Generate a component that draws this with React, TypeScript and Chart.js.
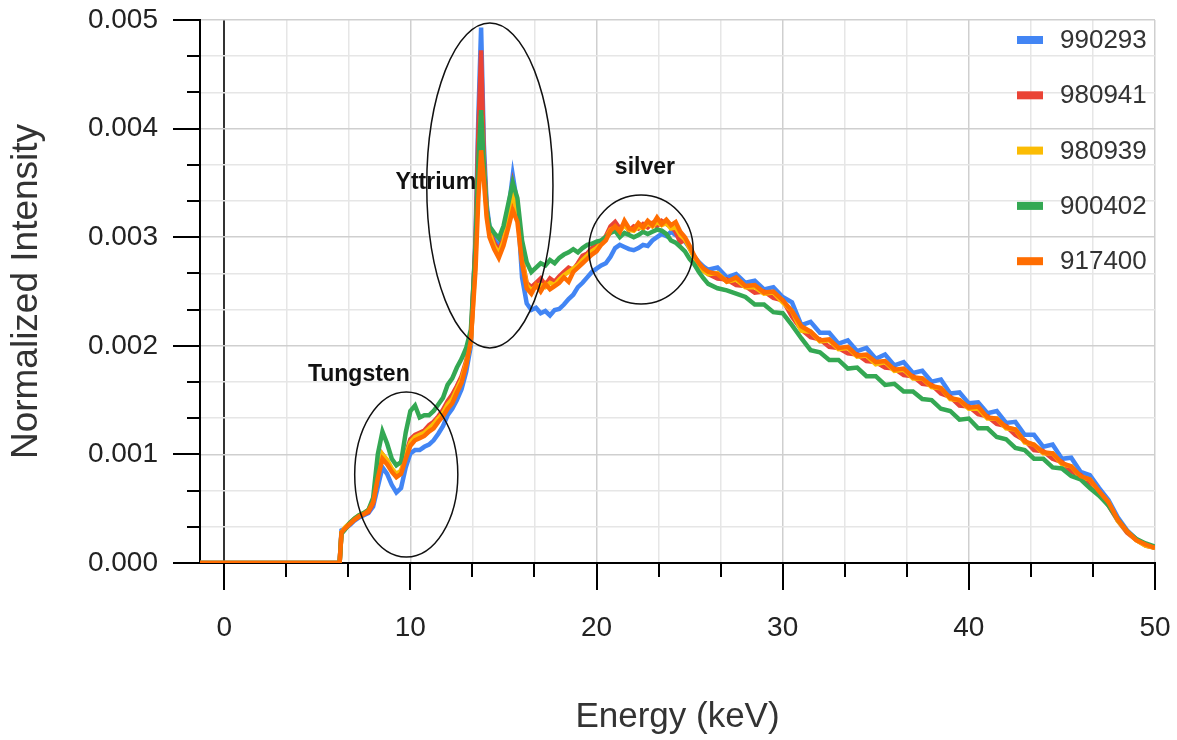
import { useEffect, useRef } from "react";
import { Chart, registerables } from "chart.js";

Chart.register(...registerables);

// ---------- data ----------
const energyKeV = [
  -1.3, 6.2, 6.3, 6.5, 6.75, 7, 7.25, 7.5, 7.75, 8, 8.25, 8.5, 8.75, 9, 9.25, 9.5, 9.75, 10, 10.25, 10.5,
  10.75, 11, 11.25, 11.5, 11.75, 12, 12.25, 12.5, 12.75, 13, 13.25, 13.5, 13.65, 13.8, 13.95, 14.1, 14.25, 14.5, 14.75, 15,
  15.25, 15.5, 15.75, 16, 16.25, 16.5, 16.75, 17, 17.25, 17.5, 17.75, 18, 18.25, 18.5, 18.75, 19, 19.25, 19.5, 19.75, 20,
  20.25, 20.5, 20.75, 21, 21.25, 21.5, 21.75, 22, 22.25, 22.5, 22.75, 23, 23.25, 23.5, 23.75, 24, 24.25, 24.5, 24.75, 25,
  25.25, 25.5, 25.75, 26, 26.5, 27, 27.5, 28, 28.5, 29, 29.5, 30, 30.5, 31, 31.5, 32, 32.5, 33, 33.5, 34,
  34.5, 35, 35.5, 36, 36.5, 37, 37.5, 38, 38.5, 39, 39.5, 40, 40.5, 41, 41.5, 42, 42.5, 43, 43.5, 44,
  44.5, 45, 45.5, 46, 46.5, 47, 47.5, 48, 48.5, 49, 49.5, 50,
];

const s990293 = [
  0, 0, 0.00030, 0.00032, 0.00035, 0.00039, 0.00042, 0.00044, 0.00046, 0.00052,
  0.00070, 0.00088, 0.00082, 0.00072, 0.00065, 0.00069, 0.00088, 0.00101, 0.00104, 0.00104,
  0.00107, 0.00109, 0.00113, 0.00119, 0.00126, 0.00136, 0.00142, 0.00150, 0.00160, 0.00176,
  0.00200, 0.00300, 0.00410, 0.00493, 0.00385, 0.00330, 0.00310, 0.00298, 0.00292, 0.00300,
  0.00322, 0.00357, 0.00330, 0.00263, 0.00239, 0.00233, 0.00235, 0.00230, 0.00232, 0.00228,
  0.00233, 0.00234, 0.00238, 0.00243, 0.00247, 0.00254, 0.00258, 0.00263, 0.00268, 0.00271,
  0.00274, 0.00276, 0.00282, 0.00290, 0.00293, 0.00291, 0.00289, 0.00288, 0.00290, 0.00293,
  0.00292, 0.00297, 0.00300, 0.00303, 0.00301, 0.00305, 0.00302, 0.00300, 0.00296, 0.00290,
  0.00282, 0.00277, 0.00273, 0.00270,
  0.00272, 0.00263, 0.00266, 0.00258, 0.00260, 0.00252, 0.00254, 0.00245, 0.00240, 0.00219,
  0.00222, 0.00212, 0.00212, 0.00202, 0.00205, 0.00195, 0.00198, 0.00188, 0.00192, 0.00182,
  0.00185, 0.00175, 0.00177, 0.00167, 0.00169, 0.00156, 0.00157, 0.00147, 0.00148, 0.00138,
  0.00140, 0.00129, 0.00130, 0.00118, 0.00118, 0.00107, 0.00109, 0.00096, 0.00097, 0.00084,
  0.00081, 0.00069, 0.00058, 0.00042, 0.00030, 0.00022, 0.00017, 0.00014,
];

const s980941 = [
  0, 0, 0.00028, 0.00032, 0.00036, 0.00040, 0.00043, 0.00045, 0.00047, 0.00055,
  0.00080, 0.00100, 0.00094, 0.00086, 0.00080, 0.00084, 0.00100, 0.00114, 0.00118, 0.00120,
  0.00122, 0.00127, 0.00130, 0.00135, 0.00141, 0.00149, 0.00155, 0.00163, 0.00172, 0.00186,
  0.00207, 0.00295, 0.00395, 0.00472, 0.00372, 0.00325, 0.00306, 0.00295, 0.00288, 0.00298,
  0.00318, 0.00348, 0.00326, 0.00280, 0.00258, 0.00254, 0.00258, 0.00262, 0.00256, 0.00262,
  0.00259, 0.00264, 0.00268, 0.00272, 0.00270, 0.00276, 0.00283, 0.00285, 0.00290, 0.00293,
  0.00296, 0.00301, 0.00310, 0.00314, 0.00308, 0.00312, 0.00306, 0.00310, 0.00308, 0.00312,
  0.00309, 0.00313, 0.00310, 0.00315, 0.00312, 0.00310, 0.00305, 0.00295, 0.00298, 0.00290,
  0.00282, 0.00274, 0.00269, 0.00266,
  0.00262, 0.00261, 0.00256, 0.00255, 0.00249, 0.00250, 0.00244, 0.00242, 0.00227, 0.00215,
  0.00208, 0.00206, 0.00199, 0.00198, 0.00193, 0.00192, 0.00186, 0.00185, 0.00180, 0.00179,
  0.00173, 0.00172, 0.00165, 0.00164, 0.00156, 0.00153, 0.00145, 0.00144, 0.00137, 0.00135,
  0.00128, 0.00126, 0.00118, 0.00113, 0.00104, 0.00103, 0.00096, 0.00093, 0.00084, 0.00081,
  0.00072, 0.00066, 0.00053, 0.00039, 0.00028, 0.00021, 0.00016, 0.00014,
];

const s980939 = [
  0, 0, 0.00028, 0.00033, 0.00037, 0.00041, 0.00044, 0.00046, 0.00049, 0.00057,
  0.00082, 0.00100, 0.00095, 0.00087, 0.00082, 0.00085, 0.00099, 0.00111, 0.00116, 0.00118,
  0.00120, 0.00124, 0.00128, 0.00133, 0.00138, 0.00146, 0.00151, 0.00160, 0.00169, 0.00184,
  0.00204, 0.00280, 0.00360, 0.00412, 0.00362, 0.00322, 0.00304, 0.00292, 0.00285, 0.00296,
  0.00314, 0.00340, 0.00322, 0.00279, 0.00256, 0.00251, 0.00255, 0.00256, 0.00254, 0.00258,
  0.00256, 0.00261, 0.00265, 0.00268, 0.00271, 0.00274, 0.00279, 0.00283, 0.00287, 0.00290,
  0.00294, 0.00299, 0.00307, 0.00309, 0.00306, 0.00311, 0.00307, 0.00306, 0.00310, 0.00308,
  0.00313, 0.00310, 0.00314, 0.00311, 0.00313, 0.00308, 0.00309, 0.00302, 0.00298, 0.00290,
  0.00281, 0.00274, 0.00269, 0.00266,
  0.00267, 0.00259, 0.00261, 0.00254, 0.00254, 0.00248, 0.00249, 0.00240, 0.00232, 0.00214,
  0.00213, 0.00204, 0.00205, 0.00197, 0.00198, 0.00190, 0.00191, 0.00183, 0.00185, 0.00177,
  0.00178, 0.00170, 0.00170, 0.00162, 0.00161, 0.00151, 0.00150, 0.00142, 0.00142, 0.00133,
  0.00133, 0.00124, 0.00123, 0.00111, 0.00109, 0.00101, 0.00101, 0.00091, 0.00089, 0.00079,
  0.00077, 0.00065, 0.00056, 0.00039, 0.00029, 0.00021, 0.00016, 0.00014,
];

const s900402 = [
  0, 0, 0.00027, 0.00031, 0.00037, 0.00041, 0.00044, 0.00046, 0.00049, 0.00060,
  0.00100, 0.00121, 0.00110, 0.00096, 0.00090, 0.00093, 0.00120, 0.00140, 0.00145, 0.00134,
  0.00136, 0.00136, 0.00140, 0.00146, 0.00152, 0.00164, 0.00170, 0.00180, 0.00188, 0.00198,
  0.00215, 0.00290, 0.00370, 0.00417, 0.00365, 0.00325, 0.00310, 0.00304, 0.00299, 0.00310,
  0.00330, 0.00350, 0.00336, 0.00297, 0.00277, 0.00268, 0.00272, 0.00276, 0.00274, 0.00279,
  0.00276, 0.00281, 0.00284, 0.00286, 0.00289, 0.00286, 0.00290, 0.00293, 0.00294, 0.00296,
  0.00297, 0.00300, 0.00304, 0.00306, 0.00300, 0.00304, 0.00302, 0.00300, 0.00302, 0.00305,
  0.00303, 0.00305, 0.00307, 0.00306, 0.00303, 0.00297, 0.00295, 0.00291, 0.00287, 0.00280,
  0.00275, 0.00268, 0.00262, 0.00257,
  0.00253, 0.00251, 0.00248, 0.00245, 0.00238, 0.00238, 0.00231, 0.00230, 0.00219, 0.00207,
  0.00196, 0.00194, 0.00187, 0.00187, 0.00179, 0.00180, 0.00172, 0.00172, 0.00164, 0.00165,
  0.00158, 0.00158, 0.00151, 0.00150, 0.00142, 0.00140, 0.00132, 0.00133, 0.00124, 0.00124,
  0.00116, 0.00114, 0.00106, 0.00104, 0.00096, 0.00096, 0.00088, 0.00087, 0.00080, 0.00077,
  0.00069, 0.00062, 0.00053, 0.00040, 0.00029, 0.00022, 0.00018, 0.00015,
];

const s917400 = [
  0, 0, 0.00028, 0.00032, 0.00036, 0.00040, 0.00043, 0.00045, 0.00048, 0.00056,
  0.00078, 0.00096, 0.00091, 0.00084, 0.00079, 0.00082, 0.00096, 0.00108, 0.00113, 0.00115,
  0.00117, 0.00121, 0.00124, 0.00130, 0.00135, 0.00142, 0.00147, 0.00157, 0.00166, 0.00182,
  0.00205, 0.00270, 0.00335, 0.00380, 0.00352, 0.00318, 0.00300, 0.00289, 0.00281, 0.00292,
  0.00308, 0.00325, 0.00314, 0.00276, 0.00253, 0.00248, 0.00256, 0.00250, 0.00257, 0.00252,
  0.00255, 0.00258, 0.00263, 0.00259, 0.00268, 0.00272, 0.00276, 0.00280, 0.00284, 0.00287,
  0.00293, 0.00297, 0.00306, 0.00310, 0.00305, 0.00315, 0.00308, 0.00307, 0.00313, 0.00309,
  0.00315, 0.00311, 0.00318, 0.00312, 0.00316, 0.00311, 0.00314, 0.00305, 0.00300, 0.00292,
  0.00283, 0.00276, 0.00271, 0.00268,
  0.00266, 0.00259, 0.00263, 0.00255, 0.00256, 0.00249, 0.00250, 0.00242, 0.00232, 0.00218,
  0.00213, 0.00205, 0.00206, 0.00198, 0.00199, 0.00191, 0.00192, 0.00185, 0.00186, 0.00178,
  0.00179, 0.00171, 0.00170, 0.00163, 0.00161, 0.00152, 0.00150, 0.00143, 0.00144, 0.00134,
  0.00133, 0.00125, 0.00123, 0.00112, 0.00109, 0.00102, 0.00101, 0.00092, 0.00089, 0.00080,
  0.00077, 0.00066, 0.00056, 0.00040, 0.00029, 0.00021, 0.00017, 0.00014,
];

const seriesLabels = ["990293", "980941", "980939", "900402", "917400"];
const seriesValues = [s990293, s980941, s980939, s900402, s917400];
const seriesColors = ["#4285F4", "#EA4335", "#FBBC04", "#34A853", "#FF6D01"];

const xTickLabels = ["0", "10", "20", "30", "40", "50"];
const yTickLabels = ["0.000", "0.001", "0.002", "0.003", "0.004", "0.005"];
const xMajorStep = 10;
const yMajorStep = 0.001;
const minorPerMajor = 3;
const xMin = -1.3;
const xMax = 50;
const yMin = 0;
const yMax = 0.005;

// annotation ellipses (data space)
const annLabels = ["Tungsten", "Yttrium", "silver"];
const annCenterX = [9.78, 14.27, 22.39];
const annCenterY = [0.000815, 0.003476, 0.002887];
const annRadiusX = [2.77, 3.39, 2.8];
const annRadiusY = [0.00076, 0.001496, 0.000502];
const annTextX = [7.23, 11.37, 22.6];
const annTextY = [0.00173, 0.0035, 0.00364];

const FONT = "'Liberation Sans', Arial, sans-serif";

const xTickValues: number[] = [];
for (let k = 0; k <= (xTickLabels.length - 1) * minorPerMajor; k++) xTickValues.push((k * xMajorStep) / minorPerMajor);
const yTickValues: number[] = [];
for (let k = 0; k <= (yTickLabels.length - 1) * minorPerMajor; k++) yTickValues.push((k * yMajorStep) / minorPerMajor);

const decorPlugin = {
  id: "decor",
  afterDatasetsDraw(chart: any) {
    const { ctx, scales } = chart;
    const xs = scales.x;
    const ys = scales.y;
    ctx.save();
    ctx.strokeStyle = "#111";
    ctx.lineWidth = 1.5;
    for (let i = 0; i < annLabels.length; i++) {
      const cx = xs.getPixelForValue(annCenterX[i]);
      const cy = ys.getPixelForValue(annCenterY[i]);
      const rx = Math.abs(xs.getPixelForValue(annCenterX[i] + annRadiusX[i]) - cx);
      const ry = Math.abs(ys.getPixelForValue(annCenterY[i] + annRadiusY[i]) - cy);
      ctx.beginPath();
      ctx.ellipse(cx, cy, rx, ry, 0, 0, Math.PI * 2);
      ctx.stroke();
    }
    ctx.fillStyle = "#111";
    ctx.font = `bold 23px ${FONT}`;
    ctx.textAlign = "center";
    ctx.textBaseline = "middle";
    for (let i = 0; i < annLabels.length; i++) {
      ctx.fillText(annLabels[i], xs.getPixelForValue(annTextX[i]), ys.getPixelForValue(annTextY[i]));
    }
    ctx.restore();
  },
  afterDraw(chart: any) {
    const { ctx, chartArea, scales } = chart;
    const xs = scales.x;
    const ys = scales.y;
    ctx.save();
    ctx.strokeStyle = "#000";
    ctx.lineWidth = 2;
    ctx.beginPath();
    xTickValues.forEach((v, i) => {
      const px = Math.round(xs.getPixelForValue(v));
      const len = i % minorPerMajor === 0 ? 27 : 14;
      ctx.moveTo(px, chartArea.bottom);
      ctx.lineTo(px, chartArea.bottom + len);
    });
    yTickValues.forEach((v, i) => {
      const py = Math.round(ys.getPixelForValue(v));
      const len = i % minorPerMajor === 0 ? 27 : 13;
      ctx.moveTo(chartArea.left, py);
      ctx.lineTo(chartArea.left - len, py);
    });
    ctx.stroke();

    // legend inside chart area, top right
    const ds = chart.data.datasets;
    ctx.font = `26px ${FONT}`;
    ctx.textAlign = "left";
    ctx.textBaseline = "middle";
    for (let i = 0; i < ds.length; i++) {
      const y = chartArea.top + 20 + i * 55.3;
      ctx.fillStyle = ds[i].borderColor;
      ctx.fillRect(chartArea.right - 138, y - 4, 26, 8);
      ctx.fillStyle = "#333";
      ctx.fillText(ds[i].label, chartArea.right - 95, y + 1);
    }
    ctx.restore();
  },
};

function isMajor(v: number, step: number) {
  const r = v / step;
  return Math.abs(r - Math.round(r)) < 1e-6;
}

export default function App() {
  const ref = useRef<HTMLCanvasElement | null>(null);

  useEffect(() => {
    if (!ref.current) return;
    const datasets = seriesLabels.map((label, si) => ({
      label,
      data: energyKeV.map((e, i) => ({ x: e, y: seriesValues[si][i] })),
      borderColor: seriesColors[si],
      backgroundColor: seriesColors[si],
      borderWidth: 4.5,
      pointRadius: 0,
      tension: 0,
      fill: false,
      order: seriesLabels.length - si,
    }));

    const chart = new Chart(ref.current, {
      type: "line",
      data: { datasets },
      plugins: [decorPlugin],
      options: {
        responsive: false,
        animation: false,
        layout: { padding: { top: 20, right: 22, left: 0, bottom: 0 } },
        plugins: { legend: { display: false }, tooltip: { enabled: false } },
        scales: {
          x: {
            type: "linear",
            min: xMin,
            max: xMax,
            afterBuildTicks: (scale: any) => {
              scale.ticks = xTickValues.map((v) => ({ value: v }));
            },
            afterFit: (scale: any) => {
              scale.height = 177;
            },
            ticks: {
              autoSkip: false,
              maxRotation: 0,
              padding: 0,
              color: "#222",
              font: { family: FONT, size: 28 },
              callback: (_v: any, index: number) =>
                index % minorPerMajor === 0 ? xTickLabels[index / minorPerMajor] : "",
            },
            grid: {
              drawTicks: true,
              tickLength: 48,
              tickColor: "rgba(0,0,0,0)",
              color: (c: any) =>
                Math.abs(c.tick?.value) < 1e-9 ? "#333" : isMajor(c.tick?.value, xMajorStep) ? "#cfcfcf" : "#e6e6e6",
              lineWidth: (c: any) => (Math.abs(c.tick?.value) < 1e-9 ? 2 : 1.5),
            },
            border: { display: true, color: "#000", width: 2 },
            title: {
              display: true,
              text: "Energy (keV)",
              color: "#333",
              font: { family: FONT, size: 35 },
              padding: { top: 0, bottom: 2 },
            },
          },
          y: {
            type: "linear",
            min: yMin,
            max: yMax,
            afterBuildTicks: (scale: any) => {
              scale.ticks = yTickValues.map((v) => ({ value: v }));
            },
            afterFit: (scale: any) => {
              scale.width = 200;
            },
            ticks: {
              autoSkip: false,
              padding: 0,
              color: "#222",
              font: { family: FONT, size: 28 },
              callback: (_v: any, index: number) =>
                index % minorPerMajor === 0 ? yTickLabels[index / minorPerMajor] : "",
            },
            grid: {
              drawTicks: true,
              tickLength: 42,
              tickColor: "rgba(0,0,0,0)",
              color: (c: any) => (isMajor(c.tick?.value, yMajorStep) ? "#cfcfcf" : "#e6e6e6"),
              lineWidth: 1.5,
            },
            border: { display: true, color: "#000", width: 2 },
            title: {
              display: true,
              text: "Normalized Intensity",
              color: "#333",
              font: { family: FONT, size: 37 },
              padding: { top: 5, bottom: 0 },
            },
          },
        },
      } as any,
    });
    return () => chart.destroy();
  }, []);

  return (
    <div style={{ position: "absolute", left: 0, top: 0, width: 1177, height: 740, background: "#fff" }}>
      <canvas ref={ref} width={1177} height={740} style={{ display: "block" }} />
    </div>
  );
}
